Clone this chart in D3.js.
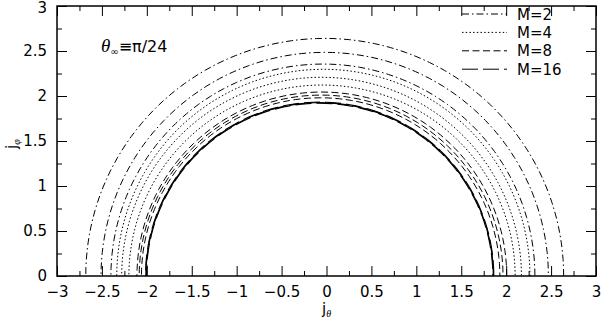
<!DOCTYPE html>
<html>
<head>
<meta charset="utf-8">
<script src="https://cdn.jsdelivr.net/npm/d3@7"></script>
<style>
  body { margin: 0; background: #fff; }
  text { font-family: "DejaVu Sans", sans-serif; fill: #000; }
</style>
</head>
<body>
<script>
// legend labels
const labels = ["M=2", "M=4", "M=8", "M=16"];

// each contour: left crossing, right crossing and height at the top
const m2Left  = [-2.68, -2.51, -2.40];
const m2Right = [2.64, 2.47, 2.32];
const m2Top   = [2.64, 2.485, 2.355];

const m4Left  = [-2.335, -2.28, -2.20];
const m4Right = [2.265, 2.17, 2.10];
const m4Top   = [2.297, 2.208, 2.122];

const m8Left  = [-2.11, -2.085, -2.06];
const m8Right = [2.006, 1.965, 1.93];
const m8Top   = [2.044, 2.01, 1.98];

const m16Left  = [-2.015, -2.01, -2.005];
const m16Right = [1.862, 1.857, 1.852];
const m16Top   = [1.932, 1.926, 1.92];

// tick values
const xMajor = [-3, -2.5, -2, -1.5, -1, -0.5, 0, 0.5, 1, 1.5, 2, 2.5, 3];
const yMajor = [0, 0.5, 1, 1.5, 2, 2.5, 3];
const xMinor = [-2.75, -2.25, -1.75, -1.25, -0.75, -0.25, 0.25, 0.75, 1.25, 1.75, 2.25, 2.75];
const yMinor = [0.25, 0.75, 1.25, 1.75, 2.25, 2.75];

const sets = [
  {label: labels[0], left: m2Left, right: m2Right, top: m2Top},
  {label: labels[1], left: m4Left, right: m4Right, top: m4Top},
  {label: labels[2], left: m8Left, right: m8Right, top: m8Top},
  {label: labels[3], left: m16Left, right: m16Right, top: m16Top}
];

// line styles per label
const dashes = {"M=2": "7,3,1.5,3", "M=4": "1.5,2.2", "M=8": "7,3.5", "M=16": "16,5"};

const w = 602, h = 322;
const x0 = 57, x1 = 596, y0 = 276, y1 = 6;

const svg = d3.select("body")
              .append("svg")
              .attr("width", w)
              .attr("height", h);

svg.append("rect").attr("width", w).attr("height", h).attr("fill", "#fff");

const x = d3.scaleLinear().domain([-3, 3]).range([x0, x1]);
const y = d3.scaleLinear().domain([0, 3]).range([y0, y1]);

const fmt = d3.format("~g");

//axes, ticks pointing inwards on all four sides
function addAxis(axis, tx, ty, vals, size, labelled) {
  const g = svg.append("g")
     .attr("transform", `translate(${tx},${ty})`)
     .call(axis.tickValues(vals).tickSize(size).tickPadding(10)
               .tickFormat(labelled ? fmt : ""));
  g.select(".domain").remove();
  g.selectAll("line").attr("stroke", "#000").attr("stroke-width", 1);
  g.selectAll("text").attr("font-size", 15).style("font-family", "DejaVu Sans, sans-serif");
  return g;
}

addAxis(d3.axisBottom(x), 0, y0, xMajor, -10, true);
addAxis(d3.axisBottom(x), 0, y0, xMinor, -5, false);
addAxis(d3.axisTop(x), 0, y1, xMajor, -10, false);
addAxis(d3.axisTop(x), 0, y1, xMinor, -5, false);
const yAxisG = addAxis(d3.axisLeft(y), x0, 0, yMajor, -10, true);
addAxis(d3.axisLeft(y), x0, 0, yMinor, -5, false);
addAxis(d3.axisRight(y), x1, 0, yMajor, -10, false);
addAxis(d3.axisRight(y), x1, 0, yMinor, -5, false);

// keep the top label inside the page
yAxisG.selectAll(".tick text").filter(d => d === 3).attr("dy", "0.45em");

svg.append("rect")
   .attr("x", x0).attr("y", y1)
   .attr("width", x1 - x0).attr("height", y0 - y1)
   .attr("fill", "none").attr("stroke", "#000").attr("stroke-width", 1.5);

//contours: half ellipse through both crossings and the top
const angles = d3.range(0, 181, 2).map(a => a * Math.PI / 180);
const line = d3.line().x(p => x(p[0])).y(p => y(p[1]));

sets.forEach(s => {
  s.left.forEach((l, i) => {
    const r = s.right[i], t = s.top[i];
    const cx = (l + r) / 2, rx = (r - l) / 2;
    const pts = angles.map(a => [cx + rx * Math.cos(a), t * Math.sin(a)]);
    svg.append("path")
       .attr("d", line(pts))
       .attr("fill", "none")
       .attr("stroke", "#000")
       .attr("stroke-width", s.label == "M=16" ? 1.2 : 1)
       .attr("stroke-dasharray", dashes[s.label])
       .attr("stroke-dashoffset", i * 7);
  });
});

//legend
const legend = svg.append("g");
labels.forEach((lab, i) => {
  const ly = 14 + i * 18.4;
  legend.append("line")
        .attr("x1", 462).attr("x2", 507)
        .attr("y1", ly).attr("y2", ly)
        .attr("stroke", "#000").attr("stroke-width", 1)
        .attr("stroke-dasharray", dashes[lab]);
  legend.append("text")
        .attr("x", 517).attr("y", ly + 5.5)
        .attr("font-size", 15)
        .text(lab);
});

//annotation
const ann = svg.append("text").attr("x", 101).attr("y", 52).attr("font-size", 16);
ann.append("tspan").attr("font-style", "italic").style("font-family", "Liberation Serif, serif").attr("font-size", 19).text("θ");
ann.append("tspan").attr("font-size", 10).attr("dy", 3).text("∞");
ann.append("tspan").attr("dy", -3).text("≡π/24");

//axis titles
const xt = svg.append("text").attr("x", 322).attr("y", 314).attr("font-size", 15);
xt.append("tspan").text("j");
xt.append("tspan").attr("font-size", 10).attr("dy", 3).style("font-family", "Liberation Serif, serif").attr("font-style", "italic").text("θ");

const yt = svg.append("text").attr("transform", "translate(17,149) rotate(-90)").attr("font-size", 15);
yt.append("tspan").text("j");
yt.append("tspan").attr("font-size", 10).attr("dy", 3).style("font-family", "Liberation Serif, serif").attr("font-style", "italic").text("φ");
</script>
</body>
</html>
